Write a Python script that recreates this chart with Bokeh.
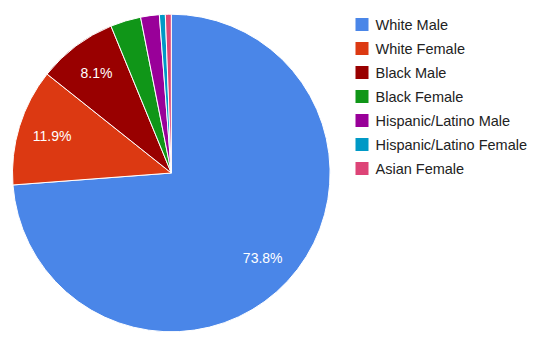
import numpy as np
from bokeh.plotting import figure
from bokeh.models import ColumnDataSource, Range1d
from bokeh.embed import file_html
from bokeh.resources import INLINE
from bokeh.core.properties import value

categories = ["White Male", "White Female", "Black Male", "Black Female",
              "Hispanic/Latino Male", "Hispanic/Latino Female", "Asian Female"]
shares = [73.8, 11.9, 8.1, 3.1, 1.9, 0.6, 0.6]
colors = ["#4a86e8", "#dc3912", "#990000", "#109618", "#990099", "#0099c6", "#dd4477"]

W, H = 533, 351
CX, CY, R = 170.8, H - 172.5, 158.8
LABEL_FRAC = 0.785

s = np.array(shares, dtype=float)
frac = s / s.sum()
cum = np.cumsum(frac)
prev = cum - frac
start = np.pi / 2 - 2 * np.pi * prev
end = np.pi / 2 - 2 * np.pi * cum
mid = (start + end) / 2
labels = [f"{v:.1f}%" if v >= 5 else "" for v in shares]

src = ColumnDataSource(dict(
    cat=categories, share=shares, color=colors,
    start=start, end=end,
    lx=CX + LABEL_FRAC * R * np.cos(mid),
    ly=CY + LABEL_FRAC * R * np.sin(mid),
    label=labels,
    legx=[361.5] * len(categories),
    legy=[H - (24 + 24 * i) for i in range(len(categories))],
    legtx=[375.0] * len(categories),
))

p = figure(width=W, height=H, x_range=Range1d(0, W), y_range=Range1d(0, H),
           output_backend="svg", toolbar_location=None, min_border=0,
           background_fill_color="white", border_fill_color="white")
p.axis.visible = False
p.xgrid.visible = False
p.ygrid.visible = False
p.outline_line_color = None

p.wedge(x=CX, y=CY, radius=R, start_angle="start", end_angle="end",
        direction="clock", fill_color="color", line_color="white",
        line_width=1, source=src)

p.text(x="lx", y="ly", text="label", text_align="center", text_baseline="middle",
       text_font=value("Liberation Sans"), text_font_size="14px",
       text_color="white", source=src)

p.rect(x="legx", y="legy", width=13, height=13, fill_color="color",
       line_color=None, source=src)
p.text(x="legtx", y="legy", text="cat", text_align="left", text_baseline="middle",
       text_font=value("Liberation Sans"), text_font_size="14.5px",
       text_color="#222222", source=src)

open("out.html", "w").write(file_html(p, INLINE))
